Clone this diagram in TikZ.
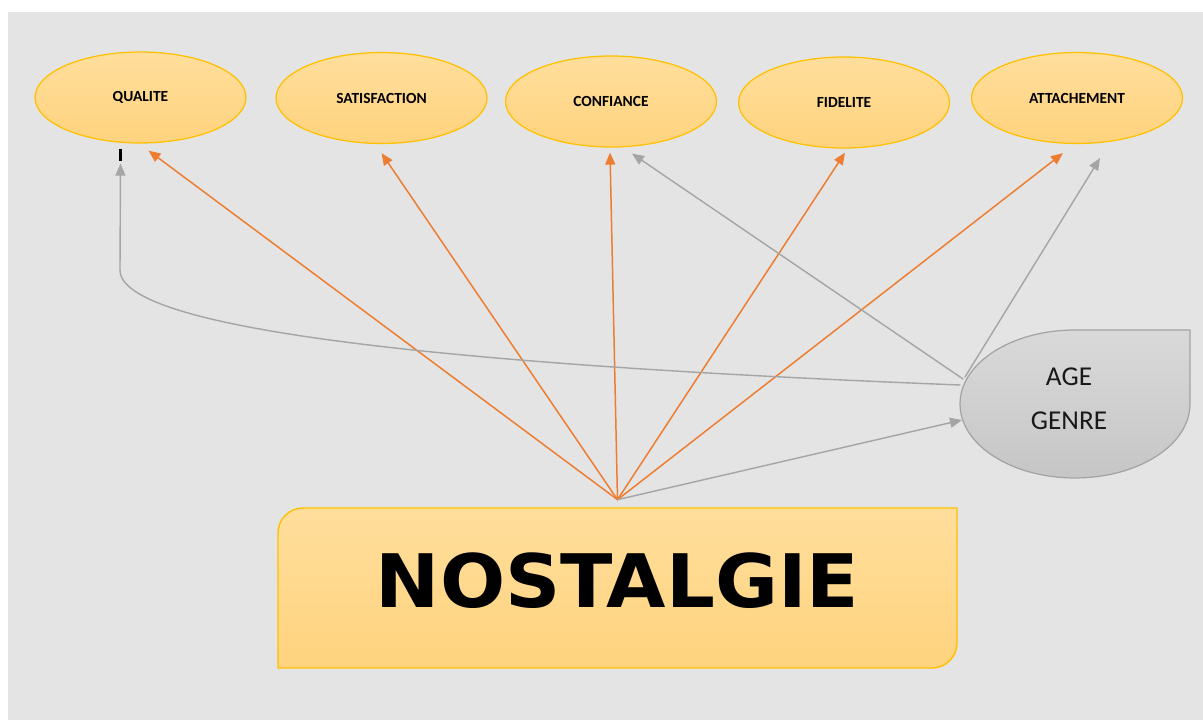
\documentclass[tikz,border=0pt]{standalone}
\usepackage{fontspec}
\setmainfont{Carlito}
\newfontfamily\heavyfont{DejaVu Sans}
\usetikzlibrary{arrows.meta,calc,shapes.geometric}
\definecolor{bggray}{HTML}{E4E4E4}
\definecolor{ovalborder}{HTML}{FFC000}
\definecolor{ovaltop}{HTML}{FFDE9C}
\definecolor{ovalbottom}{HTML}{FFD37E}
\definecolor{linkorange}{HTML}{ED7D31}
\definecolor{linkgray}{HTML}{A5A5A5}
\definecolor{agetop}{HTML}{D9D9D9}
\definecolor{agebottom}{HTML}{C6C6C6}
\definecolor{ageborder}{HTML}{A3A3A3}
\begin{document}
\begin{tikzpicture}[x=0.02cm, y=0.02cm, line join=round, line cap=round,
	oval/.style={ellipse, draw=ovalborder, line width=0.7pt, top color=ovaltop, bottom color=ovalbottom,
		minimum width=4.22cm, minimum height=1.82cm, inner sep=0pt, font=\bfseries\fontsize{8.8}{9}\selectfont},
	orangelink/.style={draw=linkorange, line width=0.85pt, -{Triangle[length=0.24cm, width=0.2cm]}},
	graylink/.style={draw=linkgray, line width=0.8pt, -{Triangle[length=0.24cm, width=0.2cm]}}]
	\useasboundingbox (0,0) rectangle (1203,720);
	\fill[bggray] (8,0) rectangle (1203,708);
	% shapes
	\draw[draw=ageborder, line width=0.7pt, top color=agetop, bottom color=agebottom] (1190,390) -- (1075,390)
		arc[start angle=90, end angle=270, x radius=2.3cm, y radius=1.48cm]
		arc[start angle=270, end angle=360, x radius=2.3cm, y radius=1.48cm] -- cycle;
	\draw[draw=ovalborder, line width=0.8pt, top color=ovaltop, bottom color=ovalbottom] (957,212) -- (303,212)
		arc[start angle=90, end angle=180, radius=0.5cm] -- (278,52) -- (932,52)
		arc[start angle=270, end angle=360, radius=0.5cm] -- cycle;
	% nodes
	\node[oval] (qual) at (140.5,622.5) {QUALITE};
	\node[oval] (satis) at (381.5,622) {SATISFACTION};
	\node[oval] (conf) at (611,618.5) {CONFIANCE};
	\node[oval] (fid) at (844,617.5) {FIDELITE};
	\node[oval] (attach) at (1077,622) {ATTACHEMENT};
	\node[align=center, text=black!90, font=\fontsize{15.5}{25}\selectfont] (age) at (1069,321) {AGE\\GENRE};
	\node[minimum width=13.58cm, minimum height=3.2cm, inner sep=0pt,
		font=\heavyfont\bfseries\fontsize{42}{42}\selectfont] (nost) at (617.5,132) {\raisebox{0.32cm}{\scalebox{1.04}[1]{NOSTALGIE}}};
	\coordinate (src) at ([yshift=0.16cm]nost.north);
	% links
	\foreach \n/\dx/\dy in {qual/8/-7, satis/0/-9, conf/-1/-5, fid/1/-4, attach/-14/-9}
		\draw[orangelink] (src) -- ($(\n.south)+(\dx,\dy)$);
	\draw[graylink] (src) -- ($(age.center)+(-107,-21)$);
	\draw[graylink] ($(age.center)+(-106,20)$) -- ($(conf.south)+(21,-6)$);
	\draw[graylink] ($(age.center)+(-104,22)$) -- ($(attach.south)+(23,-14)$);
	\draw[graylink] ($(age.center)+(-109,14)$) .. controls (450,355) and (120,390) .. (120,450) -- ($(qual.south)+(-20,-20)$);
	\draw[line width=1.6pt, line cap=butt] ($(qual.south)+(-20,-5)$) -- ($(qual.south)+(-20,-17)$);
\end{tikzpicture}
\end{document}
